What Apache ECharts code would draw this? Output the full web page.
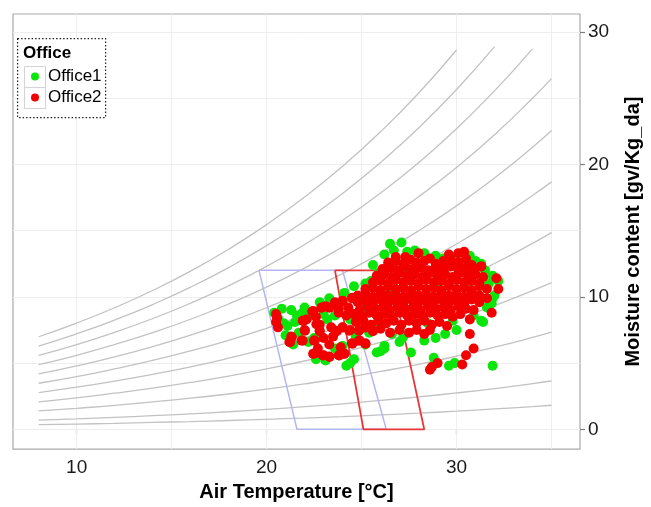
<!DOCTYPE html>
<html>
<head>
<meta charset="utf-8">
<script src="https://cdn.jsdelivr.net/npm/echarts@6/dist/echarts.min.js"></script>
<style>
  html, body { margin: 0; padding: 0; background: #ffffff; }
  #chart { width: 651px; height: 507px; }
</style>
</head>
<body>
<div id="chart"></div>
<script>
// Dry-bulb temperatures (°C) at which the relative-humidity curves are sampled
const temps = [8, 10, 12, 14, 16, 18, 20, 22, 24, 26, 28, 30, 32, 34, 35];

// Moisture content (g/kg dry air) along each relative-humidity curve
const rh100 = [6.99, 8.02, 9.18, 10.48, 11.94, 13.59, 15.45, 17.53, 19.86, 22.46, 25.37, 28.63];
const rh90  = [6.29, 7.21, 8.25, 9.42, 10.73, 12.21, 13.87, 15.73, 17.81, 20.14, 22.74, 25.65, 28.89];
const rh80  = [5.58, 6.40, 7.32, 8.36, 9.52, 10.83, 12.30, 13.95, 15.78, 17.84, 20.13, 22.69, 25.55, 28.72];
const rh70  = [4.88, 5.59, 6.40, 7.30, 8.31, 9.46, 10.74, 12.17, 13.77, 15.55, 17.55, 19.77, 22.24, 24.99, 26.47];
const rh60  = [4.18, 4.79, 5.47, 6.25, 7.11, 8.09, 9.18, 10.40, 11.76, 13.28, 14.98, 16.87, 18.97, 21.29, 22.55];
const rh50  = [3.48, 3.98, 4.56, 5.20, 5.92, 6.72, 7.63, 8.64, 9.77, 11.03, 12.43, 13.99, 15.73, 17.65, 18.68];
const rh40  = [2.78, 3.18, 3.64, 4.15, 4.72, 5.37, 6.09, 6.90, 7.79, 8.79, 9.91, 11.14, 12.52, 14.04, 14.85];
const rh30  = [2.08, 2.38, 2.73, 3.11, 3.54, 4.02, 4.56, 5.16, 5.83, 6.57, 7.40, 8.32, 9.34, 10.47, 11.07];
const rh20  = [1.39, 1.59, 1.81, 2.07, 2.35, 2.67, 3.03, 3.43, 3.87, 4.37, 4.91, 5.52, 6.20, 6.94, 7.34];
const rh10  = [0.69, 0.79, 0.91, 1.03, 1.17, 1.33, 1.51, 1.71, 1.93, 2.18, 2.45, 2.75, 3.08, 3.45, 3.65];
const rh5   = [0.35, 0.40, 0.45, 0.52, 0.59, 0.67, 0.76, 0.85, 0.96, 1.09, 1.22, 1.37, 1.54, 1.72, 1.82];
const rhCurves = [rh100, rh90, rh80, rh70, rh60, rh50, rh40, rh30, rh20, rh10, rh5];

// Comfort zones: corner temperatures (°C) and moisture contents (g/kg)
const winterZoneT = [19.6, 21.6, 26.3, 24.0, 19.6];
const winterZoneW = [12.0, 0.0, 0.0, 12.0, 12.0];
const summerZoneT = [23.6, 25.1, 28.3, 26.5, 23.6];
const summerZoneW = [12.0, 0.0, 0.0, 12.0, 12.0];

// Measured indoor conditions [air temperature °C, moisture content g/kg]
const office1 = [
  [26.5,14.0],[27.1,14.1],[26.2,13.2],[26.7,13.5],[27.4,13.4],[27.8,13.5],[28.3,13.3],[28.9,13.1],
  [29.3,12.9],[29.9,12.9],[30.7,13.1],[31.0,12.7],[31.3,12.5],[31.5,12.0],[31.9,11.6],[32.2,11.2],
  [31.7,11.0],[32.0,10.1],[31.9,9.9],[31.85,9.5],[31.6,9.2],[31.3,8.2],[31.4,8.1],[30.9,8.6],[31.9,4.8],
  [29.6,4.8],[29.9,5.0],[28.8,5.4],[28.3,6.7],[27.6,5.8],[27.2,7.0],[28.9,6.9],[29.4,7.2],[30.0,7.5],
  [26.2,6.1],[26.0,5.9],[25.8,5.8],[26.2,6.3],[27.0,6.6],[26.6,7.2],
  [24.6,10.8],[25.2,11.0],[25.5,11.2],[25.9,11.8],[25.6,12.4],[24.1,10.3],[23.3,9.9],[22.8,9.6],
  [24.7,7.0],[25.4,7.3],[25.8,8.0],[25.0,9.0],[24.4,8.3],[23.6,8.6],[23.2,8.3],[23.0,8.7],
  [24.0,6.3],[23.6,6.1],[25.2,6.4],
  [20.8,9.1],[21.1,7.8],[21.0,7.1],[21.6,8.6],[20.6,8.4],[21.3,9.0],[21.9,8.8],[21.5,8.1],
  [20.9,8.0],[21.7,7.3],[22.2,6.6],[22.5,6.9],[22.6,5.3],[23.1,5.2],[22.5,5.7],[24.2,4.8],
  [24.4,5.0],[24.6,5.3],[22.2,8.5],[22.0,9.2],[20.4,8.8],[21.4,6.4],
  [27.0,9.0],[28.0,10.0],[29.0,11.0],[30.0,10.0],[27.5,12.0],[28.5,8.0],[29.5,9.0],[30.5,11.0],
  [26.5,10.5],[28.0,12.5],[29.0,12.2],[30.2,12.5],[29.8,8.2]
];

const office2 = [
  [26.8,13.0],[27.3,13.0],[28.0,13.3],[29.6,13.2],[30.1,13.3],[30.4,13.4],[28.6,12.9],
  [26.4,12.6],[26.8,12.7],[27.2,12.5],[27.6,12.8],[27.9,12.6],[28.3,12.7],[28.9,12.5],[29.3,12.7],
  [29.7,12.8],[30.1,12.6],[30.5,12.9],[30.8,12.4],
  [26.1,12.1],[26.5,12.2],[26.9,12.0],[27.3,12.3],[27.7,12.1],[28.1,12.2],[28.5,12.0],[28.9,12.2],
  [29.3,12.1],[29.7,12.3],[30.1,12.0],[30.5,12.2],[30.9,12.1],[31.3,12.3],
  [25.8,11.6],[26.2,11.7],[26.6,11.5],[27.0,11.8],[27.4,11.6],[27.8,11.7],[28.2,11.5],[28.6,11.8],
  [29.0,11.6],[29.4,11.7],[29.8,11.5],[30.2,11.8],[30.6,11.6],[31.0,11.7],[31.4,11.5],
  [25.6,11.1],[26.0,11.2],[26.4,11.0],[26.8,11.3],[27.2,11.1],[27.6,11.2],[28.0,11.0],[28.4,11.3],
  [28.8,11.1],[29.2,11.2],[29.6,11.0],[30.0,11.3],[30.4,11.1],[30.8,11.2],[31.2,11.0],
  [25.2,10.6],[25.6,10.7],[26.0,10.5],[26.4,10.8],[26.8,10.6],[27.2,10.7],[27.6,10.5],[28.0,10.8],
  [28.4,10.6],[28.8,10.7],[29.2,10.5],[29.6,10.8],[30.0,10.6],[30.4,10.7],[30.8,10.5],[31.2,10.8],[31.6,10.6],
  [24.8,10.1],[25.2,10.2],[25.6,10.0],[26.0,10.3],[26.4,10.1],[26.8,10.2],[27.2,10.0],[27.6,10.3],
  [28.0,10.1],[28.4,10.2],[28.8,10.0],[29.2,10.3],[29.6,10.1],[30.0,10.2],[30.4,10.0],[30.8,10.3],[31.2,10.1],
  [23.1,9.3],[23.6,9.6],[24.0,9.7],[24.5,9.9],[24.8,9.6],[25.2,9.7],[25.6,9.5],[26.0,9.8],[26.4,9.6],
  [26.8,9.7],[27.2,9.5],[27.6,9.8],[28.0,9.6],[28.4,9.7],[28.8,9.5],[29.2,9.8],[29.6,9.6],[30.0,9.7],
  [30.4,9.5],[30.8,9.8],[31.2,9.6],
  [22.4,8.9],[22.9,9.2],[23.8,9.1],[24.3,9.2],[24.9,9.0],[25.3,9.3],[25.7,9.1],[26.1,9.2],[26.5,9.0],
  [26.9,9.3],[27.3,9.1],[27.7,9.2],[28.1,9.0],[28.5,9.3],[28.9,9.1],[29.3,9.2],[29.7,9.0],[30.1,9.3],
  [30.5,9.1],[30.9,9.0],
  [20.5,8.7],[22.1,8.3],[22.6,8.5],[23.8,8.8],[24.2,8.6],[24.6,8.7],[25.0,8.5],[25.4,8.8],[25.8,8.6],
  [26.2,8.7],[26.6,8.5],[27.0,8.8],[27.4,8.6],[27.8,8.7],[28.2,8.5],[28.6,8.8],[29.0,8.6],[29.4,8.7],
  [29.8,8.5],[30.2,8.7],[30.7,8.3],[31.85,8.8],
  [20.5,8.1],[20.6,7.7],[21.9,8.2],[22.8,7.9],[23.4,7.7],[24.0,7.7],[24.4,7.5],[24.7,8.1],[25.1,8.2],
  [25.5,7.9],[25.9,8.2],[26.3,8.0],[26.7,8.2],[27.1,7.9],[27.5,8.2],[27.9,8.0],[28.3,8.2],[28.7,7.9],
  [29.1,8.1],[29.5,7.8],
  [22.0,7.5],[22.8,7.4],[23.7,7.4],[24.9,7.5],[25.2,7.7],[25.6,7.4],[26.0,7.6],[26.5,7.3],[27.0,7.5],
  [27.5,7.3],[27.9,7.5],[28.3,7.2],[28.6,7.5],[30.7,7.2],
  [21.3,7.0],[21.2,6.6],[21.9,6.7],[22.5,6.7],[24.5,6.5],[24.9,6.7],[25.2,6.5],[23.3,6.4],
  [22.5,5.7],[23.0,5.6],[23.3,5.5],[23.8,5.6],[24.1,5.7],[22.7,6.1],
  [22.45,8.94],[22.88,9.18],[23.31,9.18],[24.0,9.68],[24.52,9.93],[22.62,7.94],[22.79,7.45],
  [22.54,6.7],[22.45,5.71],[22.96,5.58],[23.31,5.46],[23.83,5.58],[24.09,5.71],[23.66,7.45],
  [24.0,7.69],[24.35,7.45],[24.86,7.45],[25.21,7.69],[24.52,6.46],[24.86,6.7],[25.21,6.46],
  [20.55,8.4],[21.33,6.95],[21.24,6.57],[21.93,8.19],[22.02,7.45],[21.85,6.7],[23.0,6.9],
  [23.5,7.0],[23.9,6.2],
  [30.9,6.1],[30.5,5.6],[30.3,4.9],[28.6,4.5],[29.0,5.0],[28.7,4.7],[32.1,11.4],[32.2,10.6],
  [31.3,12.3],[31.6,9.9]
];

// Axis ticks and grid positions
const xTicks = [10, 20, 30];
const yTicks = [0, 10, 20, 30];
const xGrid = [10, 15, 20, 25, 30, 35];
const yGrid = [0, 5, 10, 15, 20, 25, 30];

const FONT = '"Liberation Sans", Arial, Helvetica, sans-serif';
const chart = echarts.init(document.getElementById('chart'), null, { renderer: 'canvas' });

const pairs = (xs, ys) => ys.map((y, i) => [xs[i], y]);

const curveSeries = rhCurves.map(vals => ({
  type: 'line',
  data: pairs(temps, vals),
  showSymbol: false,
  symbol: 'none',
  smooth: 0.5,
  silent: true,
  z: 2,
  lineStyle: { color: '#c2c2c2', width: 1.3 }
}));

const option = {
  animation: false,
  backgroundColor: '#ffffff',
  grid: {
    left: 13, right: 60, top: 14, bottom: 52,
    show: true, borderColor: '#a9a9a9', borderWidth: 1.2, backgroundColor: '#ffffff'
  },
  xAxis: {
    type: 'value', min: 6.65, max: 36.5,
    splitLine: { show: false },
    axisLine: { show: false },
    axisTick: { show: true, length: 5, customValues: xTicks, lineStyle: { color: '#7f7f7f', width: 1.2 } },
    axisLabel: { customValues: xTicks, fontSize: 19, color: '#1a1a1a', margin: 9, fontFamily: FONT },
    name: 'Air Temperature [°C]', nameLocation: 'middle', nameGap: 31,
    nameTextStyle: { fontSize: 20, fontWeight: 'bold', color: '#000000', fontFamily: FONT }
  },
  yAxis: {
    type: 'value', position: 'right', min: -1.49, max: 31.35,
    splitLine: { show: false },
    axisLine: { show: false },
    axisTick: { show: true, length: 5, customValues: yTicks, lineStyle: { color: '#7f7f7f', width: 1.2 } },
    axisLabel: { customValues: yTicks, fontSize: 19, color: '#1a1a1a', margin: 8, fontFamily: FONT },
    name: 'Moisture content [gv/Kg_da]', nameLocation: 'middle', nameRotate: 90, nameGap: 43,
    nameTextStyle: { fontSize: 20, fontWeight: 'bold', color: '#000000', fontFamily: FONT }
  },
  legend: {
    data: ['Office1', 'Office2'],
    orient: 'vertical', left: 31, top: 66, padding: 0, itemGap: 0, z: 20,
    itemWidth: 8, itemHeight: 8, icon: 'circle', selectedMode: false,
    textStyle: { fontSize: 17, color: '#000000', fontFamily: FONT, lineHeight: 21, padding: [0, 0, 0, 4] }
  },
  graphic: [
    { type: 'rect', left: 17, top: 38, z: 8,
      shape: { width: 88, height: 79 },
      style: { fill: '#ffffff', stroke: '#222222', lineWidth: 1.2, lineDash: [1.5, 2] } },
    { type: 'text', left: 23, top: 45, z: 9,
      style: { text: 'Office', font: 'bold 17px ' + FONT, fill: '#000000' } },
    { type: 'rect', left: 24, top: 66, z: 9,
      shape: { width: 21, height: 21 },
      style: { fill: '#ffffff', stroke: '#d4d4d4', lineWidth: 1 } },
    { type: 'rect', left: 24, top: 87, z: 9,
      shape: { width: 21, height: 21 },
      style: { fill: '#ffffff', stroke: '#d4d4d4', lineWidth: 1 } }
  ],
  series: [
    {
      // panel grid lines, kept beneath every other mark
      type: 'line', data: [], silent: true, z: 1,
      markLine: {
        silent: true, symbol: 'none', animation: false, z: 1,
        label: { show: false },
        lineStyle: { color: '#eeeeee', width: 1, type: 'solid' },
        data: xGrid.map(v => ({ xAxis: v })).concat(yGrid.map(v => ({ yAxis: v })))
      }
    },
    ...curveSeries,
    {
      type: 'line', data: pairs(winterZoneT, winterZoneW),
      showSymbol: false, symbol: 'none', silent: true, z: 3,
      lineStyle: { color: '#b4b4f2', width: 1.5 }
    },
    {
      type: 'line', data: pairs(summerZoneT, summerZoneW),
      showSymbol: false, symbol: 'none', silent: true, z: 3,
      lineStyle: { color: '#e83535', width: 1.8 }
    },
    {
      name: 'Office1', type: 'scatter', data: office1, z: 4,
      symbol: 'circle', symbolSize: 10,
      itemStyle: { color: '#0ae60a', opacity: 1 }
    },
    {
      name: 'Office2', type: 'scatter', data: office2, z: 5,
      symbol: 'circle', symbolSize: 10,
      itemStyle: { color: '#f20000', opacity: 1 }
    }
  ]
};

chart.setOption(option);
</script>
</body>
</html>
